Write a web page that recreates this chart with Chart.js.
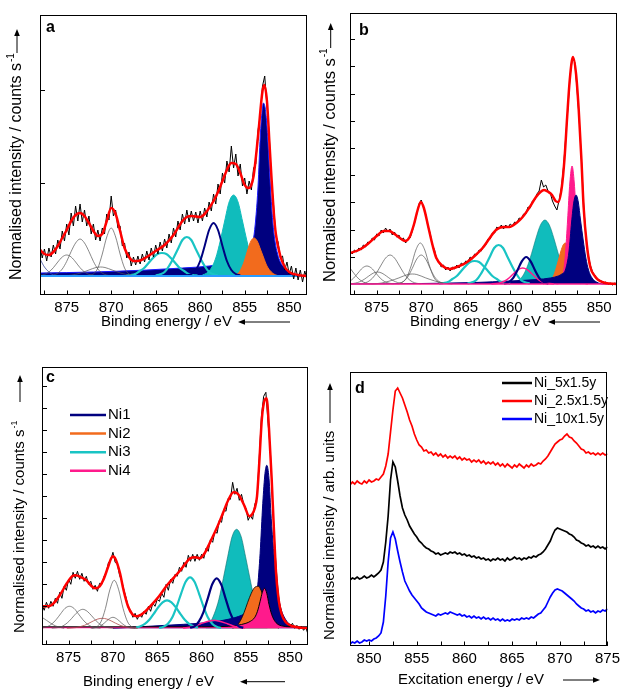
<!DOCTYPE html>
<html>
<head>
<meta charset="utf-8">
<script src="https://cdn.jsdelivr.net/npm/chart.js@4.4.1/dist/chart.umd.min.js"></script>
<style>
  body { margin: 0; background: #fff; }
  #fig { position: relative; width: 624px; height: 691px; }
  canvas { position: absolute; }
</style>
</head>
<body>
<div id="fig">
  <canvas id="pa" width="310" height="340" style="left:0;top:0"></canvas>
  <canvas id="pb" width="314" height="340" style="left:310px;top:0"></canvas>
  <canvas id="pc" width="310" height="351" style="left:0;top:340px"></canvas>
  <canvas id="pd" width="314" height="351" style="left:310px;top:340px"></canvas>
</div>
<script>
// ---- tick positions ----
var xTicksXps = [877.5, 875, 872.5, 870, 867.5, 865, 862.5, 860, 857.5, 855, 852.5, 850];
var xTicksXas = [850, 852.5, 855, 857.5, 860, 862.5, 865, 867.5, 870, 872.5, 875];
var yTicksA = [93, 186];
var yTicksB = [27.2, 54.4, 81.6, 108.8, 136, 163.2, 190.4, 217.6, 244.8];
var yTicksC = [22, 44, 66, 88, 110, 132, 154, 176, 198, 220, 242];

// ---- panel a (binding energy grid 878 -> 848, 0.25 eV) ----
var rawA = [
  30,18,27,15,28,19,31,22,  36,27,45,35,52,41,63,50,  70,55,72,54,66,50,60,42,
  52,36,46,35,48,42,62,56,  80,60,66,48,50,30,33,18,  24,10,19,11,20,12,22,14,
  25,16,28,19,31,22,34,25,  37,28,42,33,48,39,55,46,  62,52,66,54,65,55,64,53,
  65,55,68,59,74,65,82,72,  92,82,103,93,115,104,130,108,  122,100,112,90,98,82,95,86,
  108,112,146,160,190,200,170,142,  96,70,40,34,18,20,6,14,  2,10,-3,8,-4,6,-6,5,  -3];
var fitA = [[878,26],[877.5,22],[877,21],[876.5,24],[876,30],[875.5,38],[875,46],[874.5,55],[874,61],
  [873.5,63],[873,60],[872.5,53],[872,45],[871.5,40],[871,42],[870.5,55],[870,68],[869.5,62],[869,45],
  [868.5,28],[868,19],[867.5,15],[867,15],[866,19],[865,25],[864,31],[863,41],[862,55],[861.5,59],
  [861,60],[860,59],[859.5,62],[859,68],[858.5,75],[858,84],[857.5,95],[857,106],[856.5,113],[856,112],
  [855.5,103],[855,91],[854.6,88],[854.3,90],[854,100],[853.5,140],[853,185],[852.8,191],[852.5,175],
  [852.2,130],[852,100],[851.7,60],[851.5,42],[851,20],[850.5,9],[850,4],[849,1],[848,0]];
var ni1A = [[878,3],[872,4],[866,6],[862,8],[859,10],[857,13],[855.5,17],[854.8,21],[854.3,28],[854,38],
  [853.75,58],[853.5,90],[853.25,140],[853.05,165],[852.9,173],[852.7,168],[852.5,150],[852.3,120],
  [852.1,88],[851.85,55],[851.6,35],[851.3,22],[851,14],[850.5,8],[850.1,5],[849.5,2],[848.5,0],[848,0]];
var ni2A = [[856.5,0],[855.8,2],[855.3,9],[855,16],[854.6,28],[854.3,35],[853.95,38],[853.6,35],[853.2,26],
  [852.9,19],[852.5,10],[852,4],[851.5,1],[851,0]];
var ni3A = [[859.75,1],[859.25,3],[858.75,8],[858.25,18],[857.75,35],[857.25,55],[856.75,74],[856.25,81],
  [855.75,74],[855.25,55],[854.75,35],[854.25,18],[853.75,8],[853.25,3],[852.75,1]];
var ni1sA = [[861.5,0.5],[861,2],[860.5,6],[860,15],[859.5,30],[859,46],[858.5,53],[858,46],[857.5,30],
  [857,15],[856.5,6],[856,2],[855.5,0.5]];
var ni3s1A = [[865,0.5],[864.5,1.7],[864,4],[863.5,10],[863,18],[862.5,27],[862,36],[861.5,39],[861,36],
  [860.5,27],[860,18],[859.5,10],[859,4],[858.5,1.7],[858,0.5]];
var ni3s2A = [[868.3,0.4],[867.8,1],[867.3,2],[866.8,5],[866.3,8],[865.8,13],[865.3,18],[864.8,22],[864.3,23],
  [863.8,22],[863.3,18],[862.8,13],[862.3,8],[861.8,5],[861.3,2],[860.8,1],[860.3,0.4]];
var greyA = [
  [[872.5,0.4],[872,2],[871.5,8],[871,22],[870.5,39],[870,48],[869.5,39],[869,22],[868.5,8],[868,2],[867.5,0.4]],
  [[877,0.2],[876.5,0.9],[876,2.8],[875.5,7],[875,14.6],[874.5,24.5],[874,33],[873.5,37],[873,33],[872.5,24.5],
   [872,14.6],[871.5,7],[871,2.8],[870.5,0.9],[870,0.2]],
  [[878.5,0.1],[878,0.5],[877.5,1.6],[877,4],[876.5,8.3],[876,14],[875.5,19],[875,21],[874.5,19],[874,14],
   [873.5,8.3],[873,4],[872.5,1.6],[872,0.5],[871.5,0.1]],
  [[875.5,0],[874.5,0.8],[873.5,2.8],[872.5,6],[871.7,8.5],[871.2,9],[870.7,8.5],[869.9,6],[868.9,2.8],
   [867.9,0.8],[866.9,0]]];
var tailA = [[878,17],[877.5,9],[877,4],[876.5,1],[876,0]];

// ---- panel b ----
var rawB = [
  33,30,34,32,36,34,39,37,  42,41,46,44,50,48,54,51,  56,52,55,49,52,47,49,44,
  46,41,45,46,53,61,70,80,  84,77,70,58,51,39,34,24,  22,17,19,14,17,13,17,15,
  19,16,21,19,23,22,27,25,  30,29,34,33,38,39,45,45,  51,51,57,55,59,55,59,56,
  60,58,62,61,66,65,70,70,  77,76,83,84,90,93,104,97,  99,93,91,83,78,74,84,96,
  118,148,178,210,226,222,196,165,  125,80,48,30,19,12,9,5,  4,3,1,2,0,1,-1,1,  0];
var fitB = [[878,31],[877,34],[876,40],[875,48],[874.2,53],[873.6,53],[873,50],[872.4,46],[871.8,43],
  [871.3,47],[870.8,60],[870.4,74],[870.05,82],[869.7,76],[869.2,57],[868.7,38],[868.3,26],[867.6,18],
  [866.8,15],[866,17],[865,21],[864,28],[863.1,36],[862.3,46],[861.6,54],[860.8,57],[860.1,57],[859.3,61],
  [858.6,67],[857.8,77],[857.1,87],[856.6,92],[856.2,94],[855.7,92],[855.3,89],[854.9,83],[854.6,82],
  [854.2,97],[853.9,125],[853.6,167],[853.3,205],[852.95,227],[852.6,210],[852.3,174],[852,125],
  [851.75,77],[851.4,40],[851,17],[850.5,8],[850.1,4],[849.3,1],[848,0]];
var ni1B = [[878,0],[870,0.5],[864,1.5],[860,3],[857,4.5],[855.5,6],[854.6,8],[854.2,10],[853.8,14],
  [853.4,32],[853.1,62],[852.85,82],[852.6,89],[852.35,82],[852.1,64],[851.8,44],[851.5,26],[851.2,14],
  [850.8,6],[850.3,2],[849.5,0],[848,0]];
var ni4B = [[854.8,0],[854.55,0.4],[854.3,2.5],[854.05,10],[853.8,29.5],[853.55,64],[853.3,101],[853.05,118],
  [852.8,101],[852.55,64],[852.3,29.5],[852.05,10],[851.8,2.5],[851.55,0.4],[851.3,0]];
var ni2B = [[856.3,0],[855.8,1.2],[855.3,5.5],[855.05,10],[854.8,17],[854.55,25],[854.3,33],[854.05,39],
  [853.8,41],[853.55,39],[853.3,33],[853.05,25],[852.8,17],[852.55,10],[852.3,5.5],[851.8,1.2],[851.3,0]];
var ni3B = [[860.1,0.3],[859.6,1.1],[859.1,3.3],[858.6,8],[858.1,17],[857.6,30.5],[857.1,46],[856.6,59],
  [856.1,64],[855.6,59],[855.1,46],[854.6,30.5],[854.1,17],[853.6,8],[853.1,3.3],[852.6,1.1],[852.1,0.3]];
var ni1sB = [[860.7,0.35],[860.2,1.7],[859.7,5.7],[859.2,13.5],[858.7,22.7],[858.2,27],[857.7,22.7],
  [857.2,13.5],[856.7,5.7],[856.2,1.7],[855.7,0.35]];
var ni4sB = [[862.1,0.1],[861.6,0.4],[861.1,1.2],[860.6,3],[860.1,6.2],[859.6,10.5],[859.1,14.4],[858.6,16],
  [858.1,14.4],[857.6,10.5],[857.1,6.2],[856.6,3],[856.1,1.2],[855.6,0.4],[855.1,0.1]];
var ni3s1B = [[864.8,0.5],[864.3,1.7],[863.8,4],[863.3,10],[862.8,18],[862.3,27],[861.8,36],[861.3,39],
  [860.8,36],[860.3,27],[859.8,18],[859.3,10],[858.8,4],[858.3,1.7],[857.8,0.5]];
var ni3s2B = [[868,0.4],[867.5,1],[867,2],[866.5,5],[866,8],[865.5,13],[865,18],[864.5,22],[864,23],
  [863.5,22],[863,18],[862.5,13],[862,8],[861.5,5],[861,2],[860.5,1],[860,0.4]];
var greyB = [
  [[872.6,0.3],[872.1,1.8],[871.6,7],[871.1,19],[870.6,34],[870.1,41],[869.6,34],[869.1,19],[868.6,7],[868.1,1.8],[867.6,0.3]],
  [[872.5,0.6],[872,2.5],[871.5,7.2],[871,15.7],[870.5,25],[870,29],[869.5,25],[869,15.7],[868.5,7.2],[868,2.5],[867.5,0.6]],
  [[877,0.2],[876.5,0.7],[876,2.2],[875.5,5.6],[875,11.4],[874.5,19],[874,26],[873.5,29],[873,26],[872.5,19],
   [872,11.4],[871.5,5.6],[871,2.2],[870.5,0.7],[870,0.2]],
  [[878.6,0.8],[878.1,2.4],[877.6,5.8],[877.1,11],[876.6,16],[876.1,18],[875.6,16],[875.1,11],[874.6,5.8],
   [874.1,2.4],[873.6,0.8],[873.1,0.2]],
  [[878.4,0.1],[877.9,0.3],[877.4,0.9],[876.9,2.3],[876.4,4.7],[875.9,7.9],[875.4,10.8],[874.9,12],[874.4,10.8],
   [873.9,7.9],[873.4,4.7],[872.9,2.3],[872.4,0.9],[871.9,0.3]],
  [[875.5,0],[874.5,0.9],[873.5,3.1],[872.5,6.1],[871.5,9.5],[871,10],[870.5,9.5],[869.5,6.1],[868.5,3.1],
   [867.5,0.9],[866.5,0]],
  [[878,16],[877.5,10],[877,5],[876.5,2],[876,0.5],[875.5,0]]];

// ---- panel c ----
var rawC = [
  24,18,26,20,27,22,30,25,  36,30,42,38,49,44,56,50,  57,49,55,47,52,44,47,39,
  43,37,45,44,52,56,66,68,  76,66,64,53,47,38,30,20,  18,11,15,9,14,11,17,14,
  22,17,25,22,29,27,35,31,  44,38,49,45,54,52,61,57,  66,61,73,67,74,67,74,68,
  74,70,80,77,89,86,97,95,  108,106,119,117,130,129,146,134,  140,128,134,124,120,108,113,109,
  124,130,170,212,232,236,205,178,  128,82,50,26,16,10,7,3,  2,5,0,3,-1,2,-2,1,  -6];
var fitC = [[878,22],[877.3,22],[876.7,25],[876,33],[875.2,45],[874.6,52],[874.2,53],[873.6,51],[873,48],
  [872.4,42],[872,40],[871.5,42],[871.1,48],[870.6,60],[870.2,70],[870,72],[869.7,69],[869.2,55],[868.8,38],
  [868.3,22],[867.8,14],[867.3,12],[866.6,15],[865.8,22],[864.8,32],[863.9,43],[863.1,51],[862.4,58],
  [861.8,65],[861.3,70],[860.7,71],[860.2,70],[859.6,76],[859.1,85],[858.3,100],[857.6,115],[857,128],
  [856.4,136],[856,135],[855.7,132],[855.2,123],[854.6,112],[854.3,114],[854,120],[853.75,132],[853.5,165],
  [853.2,210],[852.9,228],[852.67,230],[852.4,200],[852.1,150],[851.85,100],[851.6,55],[851.3,28],[851,15],
  [850.5,6],[849.7,2],[848,0]];
var ni1C = [[870,0],[866,2],[862,4],[859,6],[857,9],[855.5,13],[854.5,18],[854,24],[853.7,40],[853.4,75],
  [853.1,125],[852.85,155],[852.65,163],[852.4,150],[852.15,110],[851.9,80],[851.6,50],[851.3,30],[851,18],
  [850.6,10],[850.2,5],[849.5,2],[848.5,0],[848,0]];
var ni2C = [[856.5,0],[856,3],[855.6,8],[855.2,16],[854.8,26],[854.4,35],[854,41],[853.6,42],[853.3,38],
  [853,30],[852.6,18],[852.2,8],[851.8,3],[851.3,0]];
var ni4C = [[878,1.5],[860,1.5],[857,2],[856,3],[855,5],[854.5,7],[854,11],[853.7,17],[853.4,27],[853.15,36],
  [852.9,40],[852.65,35],[852.4,24],[852.1,14],[851.8,8],[851.4,4],[851,2.5],[850,1.5],[848,1.5]];
var ni3C = [[859.55,2],[859.05,5.6],[858.55,15],[858.05,29],[857.55,50],[857.05,72],[856.55,92],[856.05,99],
  [855.55,92],[855.05,72],[854.55,50],[854.05,29],[853.55,15],[853.05,5.6],[852.55,2]];
var ni1sC = [[861.3,0.5],[860.8,2],[860.3,7],[859.8,16],[859.3,30],[858.8,44],[858.3,50],[857.8,44],[857.3,30],
  [856.8,16],[856.3,7],[855.8,2],[855.3,0.5]];
var ni3s1C = [[864.8,0.4],[864.3,1.5],[863.8,4.5],[863.3,11],[862.8,22],[862.3,35],[861.8,46.5],[861.3,51],
  [860.8,46.5],[860.3,35],[859.8,22],[859.3,11],[858.8,4.5],[858.3,1.5],[857.8,0.4]];
var ni3s2C = [[867.4,0.8],[866.9,2],[866.4,4.4],[865.9,8.5],[865.4,14.5],[864.9,21],[864.4,26],[863.9,28],
  [863.4,26],[862.9,21],[862.4,14.5],[861.9,8.5],[861.4,4.4],[860.9,2],[860.4,0.8]];
var ni4sC = [[862.1,0.3],[861.1,1.5],[860.1,4.6],[859.1,7.3],[858.6,8],[858.1,7.3],[857.1,4.6],[856.1,1.5],[855.1,0.3]];
var greyC = [
  [[872.35,0.2],[871.85,1.4],[871.35,6.5],[870.85,19.7],[870.35,38.5],[869.85,48],[869.35,38.5],[868.85,19.7],
   [868.35,6.5],[867.85,1.4],[867.35,0.2]],
  [[878.4,0.1],[877.9,0.5],[877.4,1.7],[876.9,4.3],[876.4,8.7],[875.9,14.5],[875.4,20],[874.9,22],[874.4,20],
   [873.9,14.5],[873.4,8.7],[872.9,4.3],[872.4,1.7],[871.9,0.5],[871.4,0.1]],
  [[876.9,0.1],[876.4,0.5],[875.9,1.4],[875.4,3.7],[874.9,7.5],[874.4,12.5],[873.9,17],[873.4,19],[872.9,17],
   [872.4,12.5],[871.9,7.5],[871.4,3.7],[870.9,1.4],[870.4,0.5],[869.9,0.1]],
  [[872.5,0.1],[872,0.5],[871.5,1.9],[871,5],[870.5,9],[870,11],[869.5,9],[869,5],[868.5,1.9],[868,0.5],[867.5,0.1]],
  [[878,11],[877.5,8],[877,5],[876.5,2.5],[876,1],[875.5,0]]];
var brownC = [[875.2,0],[874.2,0.7],[873.2,3],[872.2,7.4],[871.7,9.3],[871.2,10],[870.7,9.3],[870.2,7.4],
  [869.2,3],[868.2,0.7],[867.2,0]];
var legendC = ['Ni1', 'Ni2', 'Ni3', 'Ni4'];

// ---- panel d (excitation energy grid 847.75 -> 875, 0.25 eV) ----
var seriesD = ['Ni_5x1.5y', 'Ni_2.5x1.5y', 'Ni_10x1.5y'];
var d5 = [
  67,66,68,67,69,67,68,70,  68,69,71,69,71,73,76,84,  104,130,166,184,179,165,150,138,
  131,126,120,116,112,109,105,103,  100,98,97,95,94,92,93,91,  92,93,92,94,93,94,92,93,
  91,92,90,91,89,90,88,89,  87,88,86,87,85,87,86,88,  86,87,85,88,86,87,89,87,
  88,86,88,87,89,88,90,89,  91,92,94,97,101,105,111,116,  118,117,116,115,114,112,111,109,
  106,105,103,102,100,101,99,100,  98,100,98,99,97,99];
var d25 = [
  163,161,164,162,165,163,162,165,  163,166,164,165,167,166,169,172,  180,192,214,236,255,258,253,248,
  241,234,226,220,212,206,201,199,  195,196,193,194,191,193,190,192,  189,191,188,190,188,190,187,189,
  186,188,186,187,184,186,184,186,  183,185,182,184,182,184,181,183,  180,182,179,182,180,178,181,179,
  182,180,178,181,179,182,180,181,  183,182,185,187,190,194,198,202,  204,206,207,210,212,209,208,205,
  203,200,197,196,193,194,192,193,  191,193,191,193,191,192];
var d10 = [
  3,2,4,3,5,3,4,6,  5,6,5,7,8,10,13,24,  50,84,108,114,107,95,84,74,
  65,60,55,51,48,45,42,38,  36,34,33,32,31,30,32,31,  32,33,32,34,33,32,31,32,
  30,31,29,30,28,30,28,29,  27,29,27,28,26,28,26,27,  25,27,25,26,25,27,26,27,
  26,28,27,28,27,29,28,30,  32,33,36,39,44,49,53,56,  57,56,55,53,51,49,47,45,
  42,40,38,37,35,36,34,35,  33,35,34,36,35,37];

// ---- colours ----
var NAVY = '#00007f', ORANGE = '#f26b1d', CYAN = '#19c4c4', CYANF = '#10bcbc', PINK = '#ff1a8c',
    RED = '#ff0000', GREY = '#555555', SKY = '#2a9cff';
var FONT = '"Liberation Sans", Arial, Helvetica, sans-serif';

Chart.defaults.font.family = FONT;
Chart.defaults.font.size = 15;
Chart.defaults.color = '#000';

function onGrid(start, step, vals) {
  return vals.map(function (v, i) { return { x: start + i * step, y: v }; });
}
function xy(pairs) {
  return pairs.map(function (p) { return { x: p[0], y: p[1] }; });
}
function line(data, color, width, extra) {
  return Object.assign({ data: data, borderColor: color, borderWidth: width, pointRadius: 0,
    fill: false, tension: 0 }, extra || {});
}
function curve(pairs, color, width) {
  return line(xy(pairs), color, width, { cubicInterpolationMode: 'monotone' });
}
function area(pairs, fillColor, edge, width) {
  return line(xy(pairs), edge, width, { cubicInterpolationMode: 'monotone', fill: 'origin',
    backgroundColor: fillColor });
}

function arrow(ctx, x1, y1, x2, y2) {
  var a = Math.atan2(y2 - y1, x2 - x1), L = 7, H = 2.8;
  ctx.beginPath();
  ctx.moveTo(x1, y1);
  ctx.lineTo(x2 - 5 * Math.cos(a), y2 - 5 * Math.sin(a));
  ctx.lineWidth = 1;
  ctx.stroke();
  ctx.beginPath();
  ctx.moveTo(x2, y2);
  ctx.lineTo(x2 - L * Math.cos(a) + H * Math.sin(a), y2 - L * Math.sin(a) - H * Math.cos(a));
  ctx.lineTo(x2 - L * Math.cos(a) - H * Math.sin(a), y2 - L * Math.sin(a) + H * Math.cos(a));
  ctx.closePath();
  ctx.fill();
}

// frame, inward ticks, panel letter, axis titles with arrows, legend
var decor = {
  id: 'decor',
  afterDraw: function (chart, args, o) {
    var ctx = chart.ctx, ca = chart.chartArea, sx = chart.scales.x, sy = chart.scales.y;
    ctx.save();
    ctx.strokeStyle = '#000';
    ctx.fillStyle = '#000';
    ctx.lineWidth = 1;
    ctx.strokeRect(Math.round(ca.left) + 0.5, Math.round(ca.top) + 0.5,
      Math.round(ca.right - ca.left) - 1, Math.round(ca.bottom - ca.top) - 1);
    ctx.beginPath();
    o.xTicks.forEach(function (v) {
      var p = Math.round(sx.getPixelForValue(v)) + 0.5;
      ctx.moveTo(p, ca.bottom); ctx.lineTo(p, ca.bottom - 4.5);
    });
    o.yTicks.forEach(function (v) {
      var p = Math.round(sy.getPixelForValue(v)) + 0.5;
      ctx.moveTo(ca.left, p); ctx.lineTo(ca.left + 5, p);
    });
    ctx.stroke();

    ctx.font = 'bold 16px ' + FONT;
    ctx.textAlign = 'left';
    ctx.textBaseline = 'alphabetic';
    ctx.fillText(o.letter, o.letterAt[0], o.letterAt[1]);

    var yt = o.yTitle;
    ctx.save();
    ctx.translate(yt.x, yt.y);
    ctx.rotate(-Math.PI / 2);
    ctx.font = yt.size + 'px ' + FONT;
    ctx.textBaseline = 'middle';
    ctx.fillText(yt.text, 0, 0);
    if (yt.sup) {
      var w = ctx.measureText(yt.text).width;
      ctx.font = Math.round(yt.size * 0.62) + 'px ' + FONT;
      ctx.fillText(yt.sup, w + 1, -yt.size * 0.38);
    }
    ctx.restore();
    arrow(ctx, yt.x, yt.arrow[0], yt.x, yt.arrow[1]);

    var xt = o.xTitle;
    ctx.font = xt.size + 'px ' + FONT;
    ctx.textBaseline = 'middle';
    ctx.fillText(xt.text, xt.x, xt.y);
    arrow(ctx, xt.arrow[0], xt.y, xt.arrow[1], xt.y);

    if (o.legend) {
      var lg = o.legend;
      ctx.font = lg.size + 'px ' + FONT;
      lg.labels.forEach(function (t, i) {
        var y = lg.y0 + i * lg.dy;
        ctx.strokeStyle = lg.colors[i];
        ctx.lineWidth = 2.5;
        ctx.beginPath(); ctx.moveTo(lg.x0, y); ctx.lineTo(lg.x1, y); ctx.stroke();
        ctx.fillStyle = '#000';
        ctx.fillText(t, lg.x1 + 2, y);
      });
    }
    ctx.restore();
  }
};

function scales(xMin, xMax, rev, xTicks, yMin, yMax, yW, xH) {
  return {
    x: {
      type: 'linear', min: xMin, max: xMax, reverse: rev,
      afterBuildTicks: function (s) { s.ticks = xTicks.map(function (v) { return { value: v }; }); },
      afterFit: function (s) { s.height = xH; },
      grid: { display: false, drawTicks: false }, border: { display: false },
      ticks: { autoSkip: false, maxRotation: 0, padding: 4,
        callback: function (v) { return v % 5 === 0 ? String(v) : ''; } }
    },
    y: {
      type: 'linear', min: yMin, max: yMax,
      afterFit: function (s) { s.width = yW; },
      grid: { display: false, drawTicks: false }, border: { display: false },
      ticks: { display: false }
    }
  };
}

function makeChart(id, datasets, sc, pad, deco) {
  return new Chart(document.getElementById(id), {
    type: 'line',
    data: { datasets: datasets },
    options: {
      responsive: false, animation: false, events: [],
      layout: { padding: pad },
      plugins: { legend: { display: false }, tooltip: { enabled: false }, decor: deco },
      scales: sc
    },
    plugins: [decor]
  });
}

var yTitleXps = 'Normalised intensity / counts s';

// panel a
makeChart('pa', [
  curve(fitA, RED, 2.5),
  line(onGrid(878, -0.25, rawA), '#000', 1),
  line(xy([[878, 0], [848, 0]]), SKY, 2),
  curve(tailA, '#3a4aa0', 0.8),
  curve(greyA[0], GREY, 0.7), curve(greyA[1], GREY, 0.7), curve(greyA[2], GREY, 0.7), curve(greyA[3], GREY, 0.7),
  curve(ni1sA, NAVY, 2),
  curve(ni3s1A, CYAN, 2.2),
  curve(ni3s2A, CYAN, 2.2),
  area(ni2A, ORANGE, ORANGE, 1),
  area(ni3A, CYANF, CYANF, 1),
  area(ni1A, NAVY, '#1a1aff', 1)
], scales(848, 878, true, xTicksXps, -19, 261, 40, 45),
{ top: 15, right: 3, left: 0, bottom: 0 },
{ xTicks: xTicksXps, yTicks: yTicksA, letter: 'a', letterAt: [46, 32],
  yTitle: { text: yTitleXps, sup: '-1', size: 16, x: 17, y: 280, arrow: [53, 29] },
  xTitle: { text: 'Binding energy / eV', size: 15, x: 101, y: 322, arrow: [290, 238] } });

// panel b
makeChart('pb', [
  curve(fitB, RED, 2.5),
  line(onGrid(878, -0.25, rawB), '#000', 1),
  line(xy([[878, 0], [848, 0]]), PINK, 1.5),
  curve(greyB[0], GREY, 0.7), curve(greyB[1], GREY, 0.7), curve(greyB[2], GREY, 0.7), curve(greyB[3], GREY, 0.7),
  curve(greyB[4], GREY, 0.7), curve(greyB[5], GREY, 0.7), curve(greyB[6], GREY, 0.7),
  curve(ni1sB, NAVY, 2.2),
  curve(ni4sB, PINK, 1.5),
  curve(ni3s1B, CYAN, 2.2),
  curve(ni3s2B, CYAN, 2.2),
  area(ni1B, NAVY, NAVY, 1),
  area(ni4B, PINK, PINK, 1),
  area(ni2B, ORANGE, ORANGE, 1),
  area(ni3B, CYANF, '#0a7f7f', 0.6)
], scales(848, 878, true, xTicksXps, -11, 271, 40, 45),
{ top: 13, right: 7, left: 0, bottom: 0 },
{ xTicks: xTicksXps, yTicks: yTicksB, letter: 'b', letterAt: [49, 35],
  yTitle: { text: yTitleXps, sup: '-1', size: 16.5, x: 20.7, y: 282, arrow: [48, 23] },
  xTitle: { text: 'Binding energy / eV', size: 15, x: 100, y: 322, arrow: [290, 238] } });

// panel c
makeChart('pc', [
  curve(fitC, RED, 2.5),
  line(onGrid(878, -0.25, rawC), '#000', 1),
  curve(greyC[0], GREY, 0.7), curve(greyC[1], GREY, 0.7), curve(greyC[2], GREY, 0.7), curve(greyC[3], GREY, 0.7),
  curve(greyC[4], GREY, 0.7),
  curve(brownC, '#b04a4a', 0.8),
  curve(ni1sC, NAVY, 2.2),
  curve(ni4sC, PINK, 1.5),
  curve(ni3s1C, CYAN, 2.2),
  curve(ni3s2C, CYAN, 2.2),
  area(ni4C, PINK, '#000', 1),
  area(ni2C, ORANGE, '#000', 0.8),
  area(ni1C, NAVY, NAVY, 1),
  area(ni3C, CYANF, '#0a6f6f', 0.6)
], scales(848, 878, true, xTicksXps, -16.7, 261.6, 42, 46),
{ top: 26.7, right: 2, left: 0, bottom: 0 },
{ xTicks: xTicksXps, yTicks: yTicksC, letter: 'c', letterAt: [46, 42],
  yTitle: { text: yTitleXps, sup: '-1', size: 15, x: 20, y: 293, arrow: [62, 35] },
  xTitle: { text: 'Binding energy / eV', size: 15, x: 83, y: 341.7, arrow: [285, 240] },
  legend: { labels: legendC, colors: [NAVY, ORANGE, CYAN, PINK], size: 15, x0: 70, x1: 106, y0: 75, dy: 18.6 } });

// panel d
makeChart('pd', [
  line(onGrid(847.75, 0.25, d5), '#000', 1.7),
  line(onGrid(847.75, 0.25, d25), RED, 1.7),
  line(onGrid(847.75, 0.25, d10), '#0000ff', 1.7)
], scales(848, 875, false, xTicksXas, 0, 274, 40, 45),
{ top: 32, right: 12, left: 0, bottom: 0 },
{ xTicks: xTicksXas, yTicks: [], letter: 'd', letterAt: [45, 53],
  yTitle: { text: 'Normalised intensity / arb. units', size: 15, x: 20, y: 300, arrow: [83, 43] },
  xTitle: { text: 'Excitation energy / eV', size: 15, x: 88, y: 340, arrow: [253, 290] },
  legend: { labels: seriesD, colors: ['#000', RED, '#0000ff'], size: 14, x0: 192, x1: 222, y0: 43, dy: 18 } });
</script>
</body>
</html>
